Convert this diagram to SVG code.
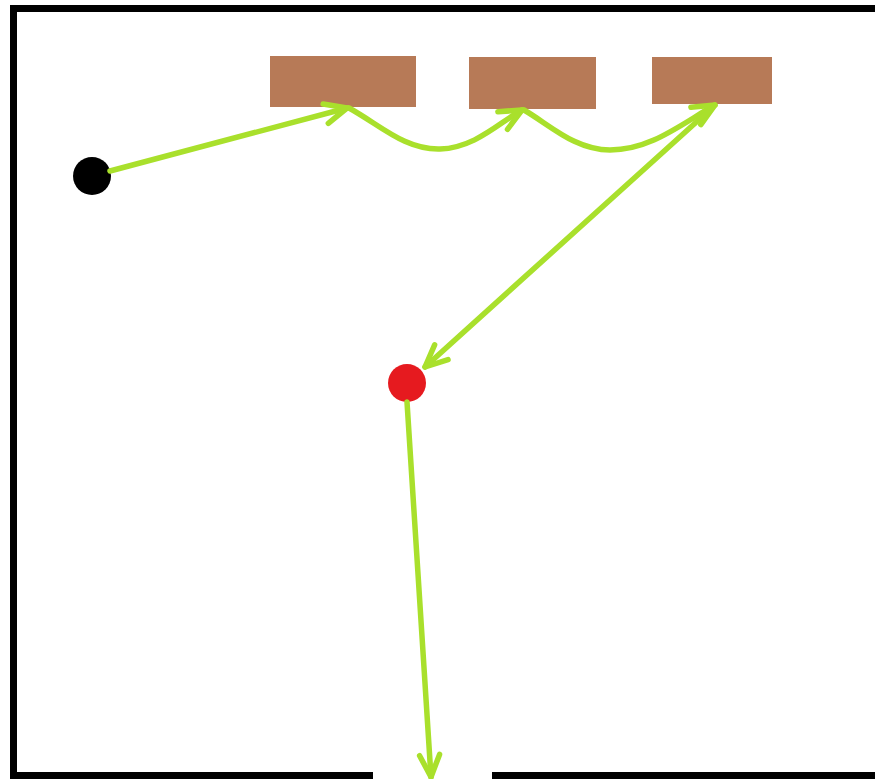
<svg xmlns="http://www.w3.org/2000/svg" width="875" height="779" viewBox="0 0 875 779">
<style>
.box{fill:#B77A57;}
.wall{stroke:#000;stroke-width:7;fill:none;}
.con{stroke:#A9E02C;stroke-width:5.5;fill:none;stroke-linecap:round;}
</style>
<defs>
<marker id="ah" markerUnits="userSpaceOnUse" markerWidth="40" markerHeight="40" viewBox="-30 -20 40 40" refX="0" refY="0" orient="auto">
<path d="M-22,-10 L0,0 L-22,10" fill="none" stroke="#A9E02C" stroke-width="5.5" stroke-linecap="round" stroke-linejoin="round"/>
</marker>
</defs>
<rect width="875" height="779" fill="#fff"/>
<g id="walls">
<path class="wall" d="M875,8.5 H13.5 V775.5 H373"/>
<path class="wall" d="M492,775.5 H875"/>
</g>
<g id="shelf1"><rect class="box" x="270" y="56" width="146" height="51"/></g>
<g id="shelf2"><rect class="box" x="469" y="57" width="127" height="52"/></g>
<g id="shelf3"><rect class="box" x="652" y="57" width="120" height="47"/></g>
<g id="start"><circle cx="92" cy="176" r="19" fill="#000"/></g>
<g id="point"><circle cx="407" cy="383" r="19" fill="#E61A1F"/></g>
<g id="connectors">
<path class="con" d="M110,171 L347,108" marker-end="url(#ah)"/>
<path class="con" d="M349,108 C380,125 405,150 440,149 C475,148 500,122 522,110" marker-end="url(#ah)"/>
<path class="con" d="M524,110 C550,125 575,150 610,150 C650,150 680,125 715,105" marker-end="url(#ah)"/>
<path class="con" d="M713,107 L425,367" marker-end="url(#ah)"/>
<path class="con" d="M407,402 L431,777" marker-end="url(#ah)"/>
</g>
</svg>
